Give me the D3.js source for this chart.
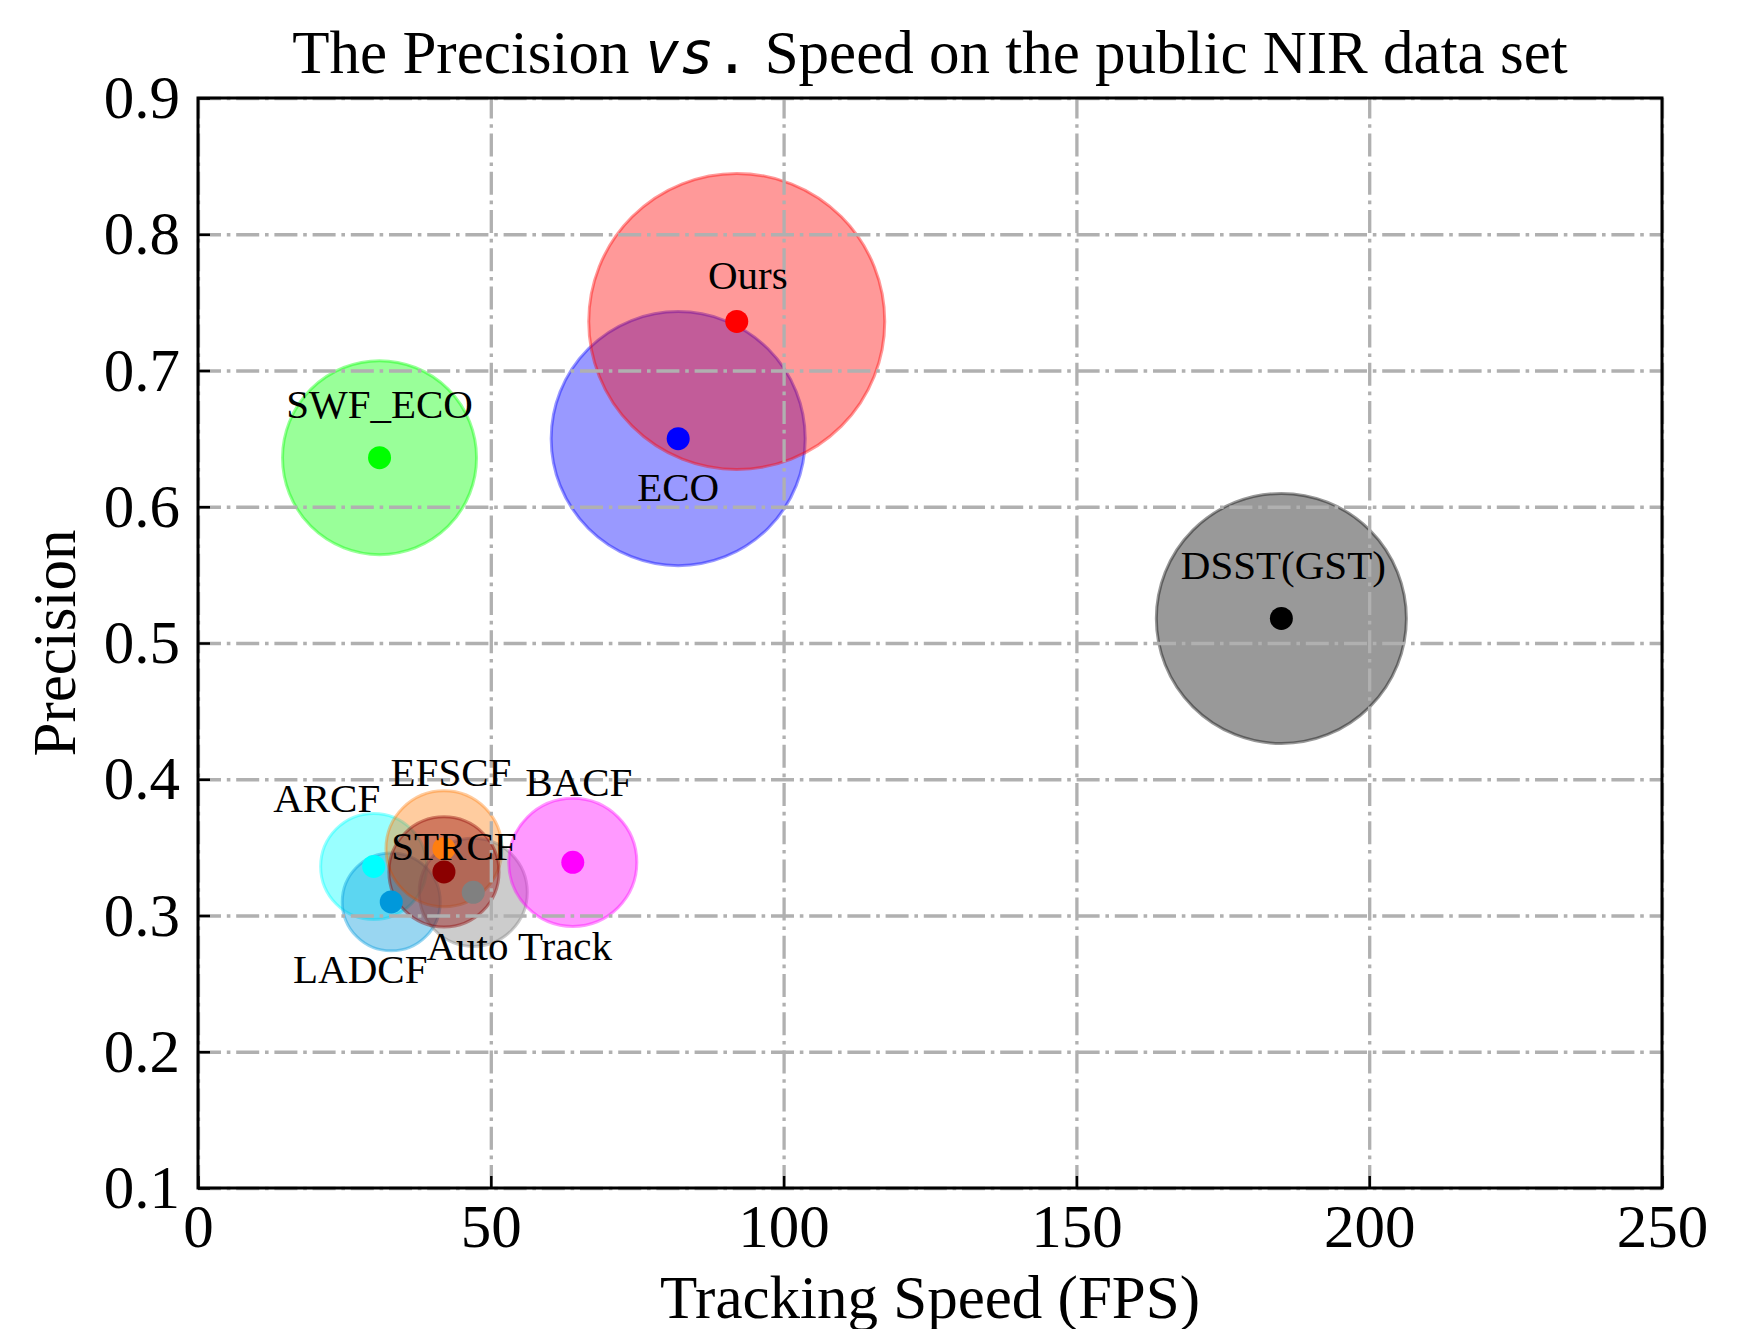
<!DOCTYPE html>
<html>
<head>
<meta charset="utf-8">
<script src="https://cdn.jsdelivr.net/npm/d3@7"></script>
<style>
  body { margin: 0; background: #fff; }
  svg text { font-family: "Liberation Serif", "Times New Roman", serif; fill: #000; }
  .grid line { stroke: #b0b0b0; stroke-width: 3.3; stroke-dasharray: 23 5.8 3.6 5.8; }
  .grid path { display: none; }
  .axis path { display: none; }
  .axis line { stroke: #000; stroke-width: 2.5; }
  .axis text { font-size: 61px; }
</style>
</head>
<body>
<svg id="chart"></svg>
<script>
// trackers, speed (FPS), precision, bubble size
const methods   = ['ECO', 'Ours', 'SWF_ECO', 'DSST(GST)', 'ARCF', 'LADCF', 'EFSCF', 'Auto Track', 'STRCF', 'BACF'];
const speed     = [82, 92, 31, 185, 30, 33, 42, 47, 42, 64];
const precision = [0.650, 0.736, 0.636, 0.518, 0.336, 0.310, 0.349, 0.317, 0.332, 0.339];
const bubble    = [1613, 2190, 941, 1563, 281, 240, 336, 292, 303, 410];
const colors    = ['blue', 'red', 'lime', 'black', 'cyan', '#0098db', '#ff7f0e', 'gray', 'darkred', 'magenta'];

const xTicks = [0, 50, 100, 150, 200, 250];
const yTicks = [0.1, 0.2, 0.3, 0.4, 0.5, 0.6, 0.7, 0.8, 0.9];

// where each name sits relative to its dot (px)
const labelOffset = {
  'Ours': [11, -46], 'ECO': [0, 49], 'SWF_ECO': [0, -53], 'DSST(GST)': [2, -53],
  'BACF': [6, -80], 'EFSCF': [7, -76], 'ARCF': [-47, -68], 'STRCF': [10, -25],
  'Auto Track': [46, 54], 'LADCF': [-31, 68]
};

const data = methods.map((m, i) => ({
  name: m, fps: speed[i], prec: precision[i], size: bubble[i], color: colors[i]
}));

const W = 1762, H = 1329;
const margin = { top: 98, right: 100, bottom: 141, left: 198 };
const width = W - margin.left - margin.right;
const height = H - margin.top - margin.bottom;

const svg = d3.select('#chart').attr('width', W).attr('height', H);
const g = svg.append('g').attr('transform', `translate(${margin.left},${margin.top})`);

const x = d3.scaleLinear().domain([0, 250]).range([0, width]);
const y = d3.scaleLinear().domain([0.1, 0.9]).range([height, 0]);
const r = d3.scaleSqrt().domain([0, d3.max(bubble)]).range([0, 148]);

// bubbles
g.append('g').selectAll('circle')
  .data(data)
  .join('circle')
  .attr('cx', d => x(d.fps))
  .attr('cy', d => y(d.prec))
  .attr('r', d => r(d.size))
  .attr('fill', d => d.color)
  .attr('fill-opacity', 0.4)
  .attr('stroke', d => d.color)
  .attr('stroke-opacity', 0.4)
  .attr('stroke-width', 3);

// grid sits over the bubbles
g.append('g').attr('class', 'grid')
  .attr('transform', `translate(0,${height})`)
  .call(d3.axisBottom(x).tickValues(xTicks).tickSize(-height).tickFormat(''));
g.append('g').attr('class', 'grid')
  .call(d3.axisLeft(y).tickValues(yTicks).tickSize(-width).tickFormat(''));

// centre dots
g.append('g').selectAll('circle')
  .data(data)
  .join('circle')
  .attr('cx', d => x(d.fps))
  .attr('cy', d => y(d.prec))
  .attr('r', 11.5)
  .attr('fill', d => d.color);

// names
g.append('g').selectAll('text')
  .data(data)
  .join('text')
  .attr('x', d => x(d.fps) + labelOffset[d.name][0])
  .attr('y', d => y(d.prec) + labelOffset[d.name][1])
  .attr('dy', '0.33em')
  .attr('text-anchor', 'middle')
  .style('font-size', '41px')
  .text(d => d.name);

// axes, ticks pointing in
g.append('g').attr('class', 'axis')
  .attr('transform', `translate(0,${height})`)
  .call(d3.axisBottom(x).tickValues(xTicks).tickSizeInner(-12).tickSizeOuter(0).tickPadding(16)
    .tickFormat(d3.format('d')));
g.append('g').attr('class', 'axis')
  .call(d3.axisLeft(y).tickValues(yTicks).tickSizeInner(-12).tickSizeOuter(0).tickPadding(18)
    .tickFormat(d3.format('.1f')));

// frame
g.append('rect')
  .attr('width', width).attr('height', height)
  .attr('fill', 'none').attr('stroke', '#000').attr('stroke-width', 3);

// title
const title = svg.append('text')
  .attr('x', margin.left + width / 2)
  .attr('y', 73)
  .attr('text-anchor', 'middle')
  .style('font-size', '61px');
title.append('tspan').text('The Precision ');
title.append('tspan').style('font-family', '"DejaVu Sans Mono"').style('font-style', 'italic')
  .style('font-size', '58px').text('vs');
title.append('tspan').style('font-family', '"DejaVu Sans Mono"').style('font-size', '58px').text('.');
title.append('tspan').text(' Speed on the public NIR data set');

// axis labels
svg.append('text')
  .attr('x', margin.left + width / 2)
  .attr('y', 1318)
  .attr('text-anchor', 'middle')
  .style('font-size', '61px')
  .text('Tracking Speed (FPS)');

svg.append('text')
  .attr('transform', `translate(75,${margin.top + height / 2}) rotate(-90)`)
  .attr('text-anchor', 'middle')
  .style('font-size', '61px')
  .text('Precision');
</script>
</body>
</html>
